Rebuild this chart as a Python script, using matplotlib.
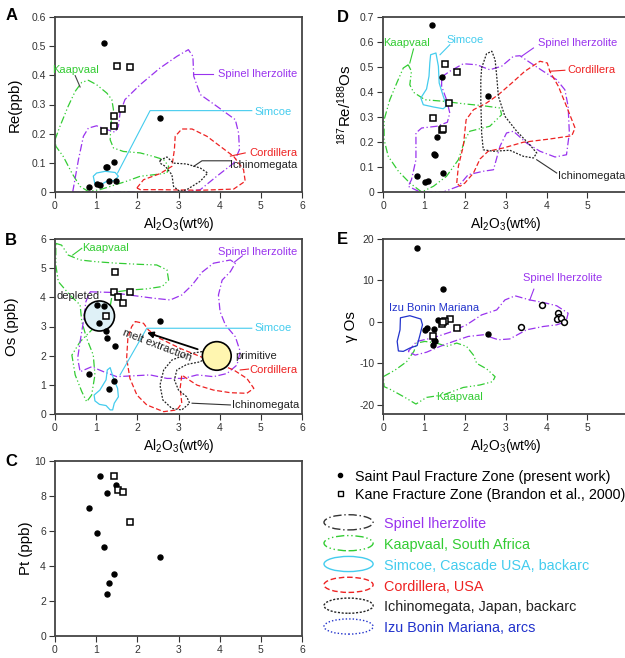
import numpy as np
import matplotlib
matplotlib.use('Agg')
import matplotlib.pyplot as plt
from matplotlib.patches import Polygon, Ellipse
from matplotlib.lines import Line2D
from matplotlib.legend_handler import HandlerPatch

plt.rcParams['font.family'] = ['Liberation Sans', 'DejaVu Sans']
plt.rcParams['mathtext.fontset'] = 'custom'
plt.rcParams['mathtext.rm'] = 'Liberation Sans'
plt.rcParams['mathtext.it'] = 'Liberation Sans:italic'
plt.rcParams['mathtext.bf'] = 'Liberation Sans:bold'

# ---------------- sample data ----------------
# panel A : Re (ppb)
a_sp_al = [1.20, 2.55, 0.82, 1.03, 1.09, 1.23, 1.27, 1.43, 1.32, 1.47]
a_sp_re = [0.51, 0.255, 0.016, 0.027, 0.025, 0.085, 0.086, 0.103, 0.039, 0.039]
a_kn_al = [1.50, 1.81, 1.63, 1.44, 1.43, 1.19]
a_kn_re = [0.433, 0.427, 0.285, 0.26, 0.225, 0.208]

# panel D : 187Re/188Os
d_sp_al = [1.20, 1.43, 2.56, 1.32, 1.25, 1.27, 1.46, 0.82, 1.03, 1.09]
d_sp_ratio = [0.669, 0.459, 0.385, 0.219, 0.153, 0.147, 0.077, 0.063, 0.039, 0.043]
d_kn_al = [1.51, 1.81, 1.62, 1.22, 1.43, 1.47]
d_kn_ratio = [0.512, 0.48, 0.355, 0.295, 0.25, 0.253]

# panel B : Os (ppb)
b_sp_al = [1.03, 1.20, 1.08, 1.24, 1.26, 1.46, 2.55, 0.82, 1.44, 1.32]
b_sp_os = [3.73, 3.71, 3.13, 2.85, 2.61, 2.32, 3.19, 1.37, 1.12, 0.87]
b_kn_al = [1.46, 1.44, 1.52, 1.82, 1.65, 1.23]
b_kn_os = [4.88, 4.18, 4.02, 4.17, 3.82, 3.37]

# panel E : gamma Os
e_sp_al = [0.82, 1.47, 1.33, 1.08, 1.02, 1.25, 2.56, 1.27, 1.24, 1.21]
e_sp_gos = [17.8, 8.0, 0.4, -1.5, -1.9, -1.8, -2.9, -4.5, -4.3, -5.5]
e_kn_al = [1.63, 1.51, 1.43, 1.81, 1.21, 1.47]
e_kn_gos = [0.6, 0.2, -0.6, -1.4, -3.3, 0.0]
e_open_al = [3.90, 4.29, 4.30, 4.25, 4.35, 4.43, 3.37]
e_open_gos = [4.1, 2.1, 1.3, 0.6, 0.9, 0.1, -1.3]

# panel C : Pt (ppb)
c_sp_al = [1.09, 1.47, 1.26, 0.82, 1.03, 1.20, 2.55, 1.43, 1.32, 1.27]
c_sp_pt = [9.16, 8.63, 8.15, 7.31, 5.86, 5.10, 4.52, 3.55, 3.03, 2.39]
c_kn_al = [1.44, 1.52, 1.65, 1.82]
c_kn_pt = [9.16, 8.34, 8.24, 6.49]

# ---------------- literature fields (outlines) ----------------
a_kaap = [(0.0, 0.179), (0.12, 0.225), (0.32, 0.294), (0.49, 0.345), (0.65, 0.376), (0.81, 0.383),
          (1.01, 0.368), (1.26, 0.339), (1.38, 0.317), (1.42, 0.282), (1.36, 0.237), (1.34, 0.179),
          (1.42, 0.151), (1.66, 0.139), (2.07, 0.134), (2.39, 0.122), (2.64, 0.111), (2.76, 0.088),
          (2.72, 0.065), (2.39, 0.059), (2.07, 0.054), (1.74, 0.037), (1.34, 0.019), (1.09, 0.008),
          (0.81, 0.002), (0.61, 0.019), (0.41, 0.065), (0.20, 0.122), (0.02, 0.157)]
a_spinel = [(0.43, 0.0), (0.57, 0.111), (0.69, 0.191), (0.81, 0.219), (1.01, 0.227), (1.26, 0.214),
            (1.46, 0.205), (1.54, 0.225), (1.58, 0.271), (1.70, 0.317), (2.07, 0.368), (2.55, 0.425),
            (2.96, 0.465), (3.24, 0.488), (3.35, 0.465), (3.37, 0.397), (3.53, 0.334), (3.93, 0.294),
            (4.38, 0.248), (4.46, 0.202), (4.48, 0.145), (4.34, 0.099), (3.93, 0.054), (3.53, 0.008),
            (3.12, 0.0), (1.91, 0.0)]
a_simcoe = [(0.93, 0.054), (1.01, 0.065), (1.22, 0.071), (1.46, 0.067), (1.54, 0.054), (1.44, 0.039),
            (1.26, 0.037), (1.09, 0.023), (0.97, 0.027)]
a_cord = [(1.99, 0.014), (2.15, 0.042), (2.55, 0.063), (2.84, 0.088), (2.90, 0.145), (2.92, 0.191),
          (3.08, 0.216), (3.33, 0.216), (3.69, 0.191), (4.01, 0.157), (4.34, 0.122), (4.58, 0.077),
          (4.62, 0.037), (4.34, 0.010), (3.53, 0.006), (2.55, 0.008), (2.07, 0.008)]
a_ichi = [(2.55, 0.109), (2.72, 0.120), (2.88, 0.099), (3.20, 0.096), (3.53, 0.082), (3.71, 0.065),
          (3.53, 0.037), (3.20, 0.008), (3.03, 0.002), (2.88, 0.019), (2.84, 0.059), (2.68, 0.088),
          (2.55, 0.099)]

d_kaap = [(0.61, 0.509), (0.49, 0.496), (0.33, 0.436), (0.16, 0.369), (0.02, 0.289), (0.02, 0.209),
          (0.12, 0.143), (0.37, 0.083), (0.65, 0.036), (0.94, 0.0), (1.23, 0.023), (1.55, 0.063),
          (1.84, 0.129), (2.00, 0.209), (2.12, 0.243), (2.61, 0.263), (2.90, 0.309), (2.86, 0.336),
          (2.45, 0.345), (1.96, 0.353), (1.47, 0.363), (1.02, 0.369), (0.74, 0.399), (0.65, 0.429),
          (0.69, 0.483)]
d_simcoe = [(1.16, 0.549), (1.29, 0.556), (1.35, 0.503), (1.37, 0.436), (1.47, 0.383), (1.55, 0.345),
            (1.47, 0.333), (1.23, 0.340), (0.98, 0.349), (0.92, 0.376), (1.06, 0.412), (1.12, 0.463),
            (1.14, 0.516)]
d_spinel = [(1.43, 0.46), (1.63, 0.483), (1.96, 0.513), (2.29, 0.509), (2.61, 0.489), (2.90, 0.503),
            (3.19, 0.543), (3.35, 0.545), (3.64, 0.513), (3.92, 0.483), (4.25, 0.449), (4.45, 0.409),
            (4.53, 0.343), (4.56, 0.236), (4.49, 0.149), (4.21, 0.140), (3.84, 0.163), (3.51, 0.196),
            (3.19, 0.243), (3.02, 0.236), (2.86, 0.183), (2.70, 0.089), (2.45, 0.083), (2.08, 0.069),
            (1.84, 0.023), (1.47, 0.0), (0.90, 0.0), (0.61, 0.023), (0.69, 0.049), (0.80, 0.129),
            (0.80, 0.236), (0.94, 0.256), (1.31, 0.263), (1.57, 0.279), (1.63, 0.316), (1.55, 0.369),
            (1.43, 0.423)]
d_cord = [(1.80, 0.036), (1.84, 0.103), (1.96, 0.183), (2.03, 0.289), (2.21, 0.329), (2.53, 0.356),
          (2.82, 0.389), (3.15, 0.436), (3.47, 0.483), (3.84, 0.523), (4.02, 0.516), (4.08, 0.483),
          (4.29, 0.423), (4.49, 0.343), (4.70, 0.256), (4.62, 0.225), (4.08, 0.212), (3.43, 0.199),
          (2.94, 0.176), (2.57, 0.163), (2.37, 0.132), (2.21, 0.076), (2.00, 0.036), (1.88, 0.023)]
d_ichi = [(2.41, 0.496), (2.53, 0.553), (2.66, 0.563), (2.74, 0.529), (2.78, 0.463), (2.82, 0.383),
          (2.98, 0.303), (3.27, 0.243), (3.59, 0.189), (3.76, 0.156), (3.68, 0.136), (3.43, 0.143),
          (3.10, 0.167), (2.70, 0.163), (2.45, 0.169), (2.41, 0.236), (2.39, 0.369), (2.39, 0.449)]

b_kaap = [(0.02, 5.85), (0.16, 5.79), (0.32, 5.45), (0.61, 5.28), (1.01, 5.22), (1.50, 5.17),
          (2.07, 5.13), (2.47, 5.11), (2.72, 4.94), (2.76, 4.59), (2.60, 4.37), (2.23, 4.29),
          (1.82, 4.25), (1.50, 4.19), (1.38, 4.02), (1.32, 3.51), (1.09, 3.17), (0.85, 2.82),
          (0.61, 2.48), (0.41, 2.02), (0.49, 1.34), (0.65, 0.77), (0.77, 0.42), (0.89, 0.65),
          (0.97, 1.34), (0.93, 2.02), (0.77, 2.59), (0.65, 3.17), (0.61, 3.74), (0.36, 4.08),
          (0.08, 4.54), (0.02, 5.11)]
b_spinel = [(0.85, 4.19), (1.34, 4.17), (1.91, 4.06), (2.39, 3.97), (2.80, 3.91), (3.08, 4.08),
            (3.33, 4.42), (3.57, 4.86), (3.85, 5.17), (4.26, 5.28), (4.38, 5.17), (4.26, 4.88),
            (4.06, 4.59), (3.97, 4.08), (4.01, 3.51), (4.14, 3.05), (4.38, 2.65), (4.50, 2.14),
            (4.42, 1.68), (4.18, 1.39), (3.85, 1.28), (3.45, 1.34), (3.12, 1.22), (2.72, 1.22),
            (2.31, 1.34), (1.91, 1.31), (1.50, 1.28), (1.18, 1.45), (0.89, 1.62), (0.61, 1.45),
            (0.55, 1.91), (0.61, 2.48), (0.69, 3.17), (0.75, 3.85)]
b_simcoe = [(0.95, 0.65), (1.09, 0.82), (1.24, 1.17), (1.27, 1.51), (1.34, 1.59), (1.42, 1.22),
            (1.52, 0.88), (1.54, 0.59), (1.44, 0.37), (1.40, 0.14), (1.34, 0.14), (1.24, 0.29),
            (1.08, 0.33), (0.97, 0.45)]
b_cord = [(1.95, 3.17), (2.15, 3.11), (2.27, 2.88), (2.55, 2.59), (3.04, 2.25), (3.53, 1.97),
          (3.93, 1.74), (4.34, 1.51), (4.66, 1.22), (4.83, 0.88), (4.66, 0.71), (4.26, 0.73),
          (3.85, 0.82), (3.45, 0.99), (3.20, 1.22), (3.08, 1.34), (3.04, 0.88), (3.08, 0.37),
          (2.96, 0.14), (2.64, 0.08), (2.23, 0.31), (1.99, 0.65), (1.82, 1.22), (1.74, 1.91),
          (1.77, 2.59), (1.86, 2.99)]
b_ichi = [(3.57, 2.14), (3.20, 2.05), (2.84, 1.85), (2.64, 1.51), (2.55, 0.99), (2.62, 0.48),
          (2.84, 0.19), (3.08, 0.14), (3.27, 0.37), (3.20, 0.59), (3.00, 0.82), (2.90, 1.17),
          (2.96, 1.51), (3.20, 1.70), (3.53, 1.79), (3.69, 1.97)]

e_spinel = [(0.61, -7.1), (0.82, -4.7), (1.23, -3.8), (1.63, -2.5), (2.04, -0.7), (2.41, 1.7),
            (2.78, 2.9), (2.98, 5.3), (3.23, 6.3), (3.59, 5.3), (3.92, 4.7), (4.25, 3.9),
            (4.53, 2.1), (4.48, 0.1), (4.25, -0.7), (3.92, -1.1), (3.51, -1.9), (3.10, -4.1),
            (2.82, -4.3), (2.45, -3.1), (2.08, -3.5), (1.72, -4.7), (1.39, -5.9), (1.06, -7.3),
            (0.78, -8.0)]
e_kaap = [(0.0, -13.2), (0.29, -11.6), (0.57, -9.6), (0.75, -7.1), (0.82, -5.1), (1.02, -4.7),
          (1.31, -5.1), (1.55, -5.9), (1.80, -5.1), (2.04, -5.9), (2.21, -8.0), (2.29, -10.0),
          (2.53, -11.3), (2.74, -13.2), (2.68, -14.4), (2.37, -15.2), (1.96, -15.8), (1.47, -17.6),
          (1.06, -18.2), (0.80, -19.8), (0.53, -18.2), (0.20, -16.4), (0.02, -15.6)]
e_izu = [(0.42, 1.0), (0.65, 1.5), (0.92, 0.7), (0.96, -0.7), (0.90, -3.1), (0.83, -5.7),
         (0.65, -6.3), (0.49, -7.1), (0.37, -7.0), (0.34, -4.7), (0.41, -1.9)]

# field styles: colour, linestyle
SPINEL = ('#9933ee', (0, (6, 2, 1, 2)))
KAAP = ('#33cc33', (0, (6, 2, 1, 2, 1, 2)))
SIMCOE = ('#44ccee', '-')
CORD = ('#ee2222', (0, (4, 2)))
ICHI = ('#222222', (0, (1.5, 1.2)))
IZU = ('#2233cc', '-')

fig = plt.figure(figsize=(6.25, 6.58), dpi=100)
W, H = 625.0, 658.0


def make_ax(left, top, width, height):
    return fig.add_axes([left / W, 1 - (top + height) / H, width / W, height / H])


def setup(ax, xlim, ylim, yticks, ylabels, xticks, xlabels):
    ax.set_xlim(*xlim)
    ax.set_ylim(*ylim)
    ax.set_yticks(yticks)
    ax.set_yticklabels(ylabels)
    ax.set_xticks(xticks)
    ax.set_xticklabels(xlabels)
    ax.tick_params(direction='out', length=4, width=0.8, labelsize=7.5, colors='#333333', pad=2.5)
    for s in ax.spines.values():
        s.set_linewidth(1.3)
        s.set_color('#444444')


def field(ax, pts, style, lw=0.9):
    c, ls = style
    ax.add_patch(Polygon(np.array(pts), closed=True, fill=False, edgecolor=c,
                         linestyle=ls, lw=lw, joinstyle='round', zorder=2))


def leader(ax, xs, ys, c):
    ax.plot(xs, ys, color=c, lw=0.8, zorder=2)


def samples(ax, sx, sy, kx, ky):
    ax.plot(sx, sy, 'o', color='k', ms=3.6, zorder=5)
    ax.plot(kx, ky, 's', mfc='white', mec='k', mew=1.1, ms=4.0, zorder=5)


def lbl(ax, x, y, s, c, ha='center', **kw):
    ax.text(x, y, s, color=c, fontsize=8, ha=ha, va='center', zorder=6, **kw)


al_label = 'Al$_2$O$_3$(wt%)'
xt6 = [0, 1, 2, 3, 4, 5, 6]
YLAB = 10.8

# ---------------- A ----------------
axA = make_ax(55, 17, 247, 175)
setup(axA, (0, 6), (0, 0.6), [0, 0.1, 0.2, 0.3, 0.4, 0.5, 0.6],
      ['0', '0.1', '0.2', '0.3', '0.4', '0.5', '0.6'], xt6, [str(v) for v in xt6])
field(axA, a_kaap, KAAP)
field(axA, a_spinel, SPINEL)
field(axA, a_simcoe, SIMCOE)
field(axA, a_cord, CORD)
field(axA, a_ichi, ICHI)
leader(axA, [1.52, 2.31, 4.78], [0.065, 0.279, 0.279], SIMCOE[0])
leader(axA, [0.49, 0.61], [0.399, 0.36], '#444444')
leader(axA, [3.35, 3.85], [0.406, 0.406], SPINEL[0])
leader(axA, [4.26, 4.62], [0.123, 0.134], CORD[0])
leader(axA, [3.37, 3.57, 4.26], [0.088, 0.107, 0.107], '#333333')
samples(axA, a_sp_al, a_sp_re, a_kn_al, a_kn_re)
lbl(axA, 0.51, 0.417, 'Kaapvaal', KAAP[0])
lbl(axA, 4.91, 0.406, 'Spinel lherzolite', SPINEL[0])
lbl(axA, 5.30, 0.275, 'Simcoe', SIMCOE[0])
lbl(axA, 5.30, 0.134, 'Cordillera', CORD[0])
lbl(axA, 5.07, 0.094, 'Ichinomegata', '#222222')
axA.set_ylabel('Re(ppb)', fontsize=YLAB, labelpad=7)
axA.set_xlabel(al_label, fontsize=10, labelpad=3)

# ---------------- D ----------------
axD = make_ax(383.3, 17, 244.8, 175)
setup(axD, (0, 6), (0, 0.7), [0, 0.1, 0.2, 0.3, 0.4, 0.5, 0.6, 0.7],
      ['0', '0.1', '0.2', '0.3', '0.4', '0.5', '0.6', '0.7'], [0, 1, 2, 3, 4, 5],
      ['0', '1', '2', '3', '4', '5'])
field(axD, d_kaap, KAAP)
field(axD, d_spinel, SPINEL)
field(axD, d_simcoe, SIMCOE)
field(axD, d_cord, CORD)
field(axD, d_ichi, ICHI)
leader(axD, [0.74, 0.65], [0.572, 0.516], KAAP[0])
leader(axD, [1.39, 1.63], [0.549, 0.589], SIMCOE[0])
leader(axD, [3.39, 3.68], [0.543, 0.576], SPINEL[0])
leader(axD, [4.08, 4.45], [0.483, 0.487], CORD[0])
leader(axD, [3.76, 4.25], [0.129, 0.076], '#333333')
samples(axD, d_sp_al, d_sp_ratio, d_kn_al, d_kn_ratio)
lbl(axD, 0.57, 0.596, 'Kaapvaal', KAAP[0])
lbl(axD, 2.0, 0.607, 'Simcoe', SIMCOE[0])
lbl(axD, 3.79, 0.596, 'Spinel lherzolite', SPINEL[0], ha='left')
lbl(axD, 4.5, 0.489, 'Cordillera', CORD[0], ha='left')
lbl(axD, 4.29, 0.065, 'Ichinomegata', '#222222', ha='left')
axD.set_ylabel('$^{187}$Re/$^{188}$Os', fontsize=YLAB, labelpad=4)
axD.set_xlabel(al_label, fontsize=10, labelpad=3)

# ---------------- B ----------------
axB = make_ax(55, 239, 247, 175)
setup(axB, (0, 6), (0, 6), [0, 1, 2, 3, 4, 5, 6], ['0', '1', '2', '3', '4', '5', '6'],
      xt6, [str(v) for v in xt6])
field(axB, b_kaap, KAAP)
field(axB, b_spinel, SPINEL)
field(axB, b_simcoe, SIMCOE)
field(axB, b_cord, CORD)
field(axB, b_ichi, ICHI)
leader(axB, [1.58, 2.23, 4.78], [1.34, 2.94, 2.94], SIMCOE[0])
leader(axB, [0.43, 0.65], [5.45, 5.68], KAAP[0])
leader(axB, [4.35, 4.55], [5.2, 5.42], SPINEL[0])
leader(axB, [4.50, 4.70], [1.51, 1.54], CORD[0])
leader(axB, [3.33, 4.26], [0.37, 0.31], '#333333')
axB.add_patch(Ellipse((1.08, 3.36), 0.73, 1.03, facecolor='#dff1f7', edgecolor='k', lw=1.2, zorder=3))
axB.add_patch(Ellipse((3.93, 1.99), 0.70, 0.98, facecolor='#fff6b0', edgecolor='k', lw=1.2, zorder=3))
axB.annotate('', xy=(2.17, 2.82), xytext=(3.53, 2.19),
             arrowprops=dict(arrowstyle='-|>', color='k', lw=1.3, mutation_scale=9), zorder=4)
samples(axB, b_sp_al, b_sp_os, b_kn_al, b_kn_os)
axB.text(2.47, 2.37, 'melt extraction', fontsize=8, rotation=-21, ha='center', va='center',
         rotation_mode='anchor', color='#222222', zorder=6)
lbl(axB, 1.22, 5.68, 'Kaapvaal', KAAP[0])
lbl(axB, 4.91, 5.57, 'Spinel lherzolite', SPINEL[0])
lbl(axB, 0.55, 4.03, 'depleted', '#222222')
lbl(axB, 5.30, 2.94, 'Simcoe', SIMCOE[0])
lbl(axB, 4.38, 1.98, 'primitive', '#222222', ha='left')
lbl(axB, 5.30, 1.51, 'Cordillera', CORD[0])
lbl(axB, 5.11, 0.31, 'Ichinomegata', '#222222')
axB.set_ylabel('Os (ppb)', fontsize=YLAB, labelpad=15)
axB.set_xlabel(al_label, fontsize=10, labelpad=3)

# ---------------- E ----------------
axE = make_ax(383.3, 239, 244.8, 175)
setup(axE, (0, 6), (-22.2, 20), [-20, -10, 0, 10, 20], ['-20', '-10', '0', '10', '20'],
      [0, 1, 2, 3, 4, 5], ['0', '1', '2', '3', '4', '5'])
field(axE, e_kaap, KAAP)
field(axE, e_spinel, SPINEL)
field(axE, e_izu, IZU)
leader(axE, [3.59, 3.69], [5.3, 7.9], SPINEL[0])
samples(axE, e_sp_al, e_sp_gos, e_kn_al, e_kn_gos)
axE.plot(e_open_al, e_open_gos, 'o', mfc='white', mec='k', mew=1.1, ms=4.2, zorder=5)
lbl(axE, 1.24, 3.3, 'Izu Bonin Mariana', IZU[0])
lbl(axE, 1.86, -18.0, 'Kaapvaal', KAAP[0])
lbl(axE, 4.40, 10.5, 'Spinel lherzolite', SPINEL[0])
axE.set_ylabel('\u03b3 Os', fontsize=YLAB, labelpad=1)
axE.set_xlabel(al_label, fontsize=10, labelpad=3)

# ---------------- C ----------------
axC = make_ax(55, 461, 247, 175)
setup(axC, (0, 6), (0, 10), [0, 2, 4, 6, 8, 10], ['0', '2', '4', '6', '8', '10'],
      xt6, [str(v) for v in xt6])
samples(axC, c_sp_al, c_sp_pt, c_kn_al, c_kn_pt)
axC.set_ylabel('Pt (ppb)', fontsize=YLAB, labelpad=1)

# panel letters
for s, (px, py) in zip('ADBEC', [(11.7, 15.7), (342.7, 17.3), (11, 240), (342.7, 239.3), (11, 461.7)]):
    fig.text(px / W, 1 - py / H, s, fontsize=12, fontweight='bold', ha='center', va='center')

# ---------------- legends ----------------
pt_handles = [Line2D([], [], ls='none', marker='o', ms=3, mfc='k', mec='k'),
              Line2D([], [], ls='none', marker='s', ms=3.6, mfc='white', mec='k', mew=1)]
pt_labels = ['Saint Paul Fracture Zone (present work)', 'Kane Fracture Zone (Brandon et al., 2000)']
leg1 = fig.legend(pt_handles, pt_labels, loc='upper left', bbox_to_anchor=(332.4 / W, 1 - 469.5 / H),
                  frameon=False, fontsize=10.3, handlelength=1.0, handletextpad=0.6,
                  labelspacing=0.28, borderpad=0, borderaxespad=0)


class HandlerEllipse(HandlerPatch):
    def create_artists(self, legend, orig_handle, xdescent, ydescent, width, height, fontsize, trans):
        center = 0.5 * width - 0.5 * xdescent, 0.5 * height - 0.5 * ydescent
        p = Ellipse(xy=center, width=width + xdescent, height=height + ydescent)
        self.update_prop(p, orig_handle, legend)
        p.set_transform(trans)
        return [p]


field_labels = ['Spinel lherzolite', 'Kaapvaal, South Africa', 'Simcoe, Cascade USA, backarc',
                'Cordillera, USA', 'Ichinomegata, Japan, backarc', 'Izu Bonin Mariana, arcs']
field_edge = ['#333333', KAAP[0], SIMCOE[0], CORD[0], '#222222', IZU[0]]
field_ls = [SPINEL[1], KAAP[1], '-', CORD[1], ICHI[1], (0, (1, 1.5))]
field_text = [SPINEL[0], KAAP[0], SIMCOE[0], CORD[0], '#222222', IZU[0]]
ell_handles = [Ellipse((0, 0), 1, 1, facecolor='none', edgecolor=c, linestyle=ls, lw=1.0)
               for c, ls in zip(field_edge, field_ls)]
leg2 = fig.legend(ell_handles, field_labels, loc='upper left', bbox_to_anchor=(324 / W, 1 - 516.5 / H),
                  frameon=False, fontsize=10.4, handlelength=3.4, handleheight=1.05, handletextpad=0.75,
                  labelspacing=0.43, borderpad=0, borderaxespad=0, labelcolor=field_text,
                  handler_map={Ellipse: HandlerEllipse()})

fig.savefig('out.png', dpi=100)
